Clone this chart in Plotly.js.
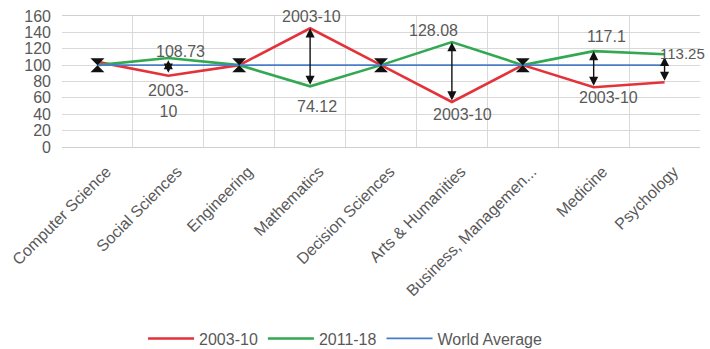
<!DOCTYPE html>
<html>
<head>
<meta charset="utf-8">
<script src="https://cdn.plot.ly/plotly-3.0.1.min.js"></script>
<style>html,body{margin:0;padding:0;background:#fff;}#chart{width:710px;height:349px;}</style>
</head>
<body>
<div id="chart"></div>
<script>
// ---- data ----
const categories = ["Computer Science", "Social Sciences", "Engineering", "Mathematics", "Decision Sciences", "Arts & Humanities", "Business, Managemen...", "Medicine", "Psychology"];
const series2003 = [104, 87, 100, 145, 100, 55, 100, 73, 79];
const series2011 = [100, 108.73, 100, 74.12, 100, 128.08, 100, 117.1, 113.25];
const worldAverage = [100, 100, 100, 100, 100, 100, 100, 100, 100];
const arrowLow = [100, 89, 100, 74.12, 100, 55, 100, 73, 79];
const arrowHigh = [100, 106, 100, 145, 100, 128.08, 100, 117.1, 110];
const yTicks = [0, 20, 40, 60, 80, 100, 120, 140, 160];
const seriesNames = ["2003-10", "2011-18", "World Average"];

const red = "#e3323a", green = "#33a852", blue = "#4a7cc7";
const txtGray = "#595959";
const FONT = "Liberation Sans, Arial, sans-serif";

const traces = [
  {x: categories, y: series2003, name: seriesNames[0], type: "scatter", mode: "lines", line: {color: red, width: 2.6}},
  {x: categories, y: series2011, name: seriesNames[1], type: "scatter", mode: "lines", line: {color: green, width: 2.6}},
  {x: categories, y: worldAverage, name: seriesNames[2], type: "scatter", mode: "lines", line: {color: blue, width: 1.8}}
];

// hourglass markers where the arrow has zero length
const hgX = [], hgY = [];
categories.forEach((c, i) => { if (arrowLow[i] === arrowHigh[i]) { hgX.push(c); hgY.push(arrowLow[i]); } });
traces.push({x: hgX, y: hgY, type: "scatter", mode: "markers", showlegend: false, hoverinfo: "skip",
  marker: {symbol: "hourglass", size: 14, color: "#111"}});

const annotations = [];
categories.forEach((c, i) => {
  if (arrowLow[i] !== arrowHigh[i]) {
    annotations.push({x: c, y: arrowHigh[i], xref: "x", yref: "y", axref: "pixel", ayref: "y",
      ax: 0, ay: arrowLow[i], text: "", showarrow: true, arrowside: "end+start",
      arrowhead: 2, arrowsize: 1.3, arrowwidth: 1.4, arrowcolor: "#111", standoff: 0, startstandoff: 0});
  }
});

function label(txt, cat, val, xs, ys, xanchor, size) {
  annotations.push({x: cat, y: val, xref: "x", yref: "y", text: txt, showarrow: false,
    xshift: xs, yshift: ys, xanchor: xanchor || "center",
    font: {family: FONT, size: size || 16, color: txtGray}});
}
label(String(series2011[1]), categories[1], series2011[1], 12, 6);
label(seriesNames[0].replace("-", "-<br>"), categories[1], series2003[1], 0, -25);
label(seriesNames[0], categories[3], series2003[3], 1, 12);
label(String(series2011[3]), categories[3], series2011[3], 7, -20);
label(String(series2011[5]), categories[5], series2011[5], -18, 12);
label(seriesNames[0], categories[5], series2003[5], 11, -13);
label(String(series2011[7]), categories[7], series2011[7], 13, 15);
label(seriesNames[0], categories[7], series2003[7], 15, -10);
label(String(series2011[8]), categories[8], series2011[8], -7, 1, "left", 15);

const layout = {
  width: 710, height: 349,
  margin: {l: 62, r: 10, t: 16, b: 202},
  paper_bgcolor: "#fff", plot_bgcolor: "#fff",
  font: {family: FONT, color: txtGray},
  showlegend: true,
  legend: {orientation: "h", x: 0.486, xref: "container", xanchor: "center", y: 0.03, yref: "container", yanchor: "middle",
    itemwidth: 46,
    font: {family: FONT, size: 16, color: txtGray}, itemclick: false, traceorder: "normal"},
  xaxis: {type: "category", range: [-0.5, 8.5], tickangle: -45, tickson: "boundaries", ticks: "",
    ticklabelshift: 9, ticklabelstandoff: 8,
    showgrid: true, gridcolor: "#d9d9d9", gridwidth: 1, showline: true, linecolor: "#d0d0d0", mirror: true,
    tickfont: {family: FONT, size: 16, color: txtGray}, automargin: false, fixedrange: true},
  yaxis: {range: [0, 160], tickvals: yTicks, ticktext: yTicks.map(String), showgrid: true, gridcolor: "#d9d9d9",
    zeroline: false, showline: false, ticks: "", ticklabelstandoff: 10,
    tickfont: {family: FONT, size: 16, color: txtGray},
    automargin: false, fixedrange: true},
  annotations: annotations
};

Plotly.newPlot("chart", traces, layout, {displayModeBar: false, staticPlot: true});
</script>
</body>
</html>
